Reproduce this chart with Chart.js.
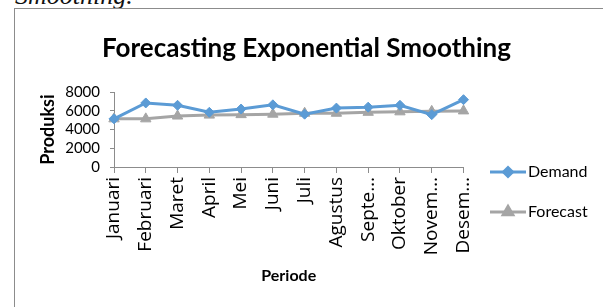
<!DOCTYPE html>
<html>
<head>
<meta charset="utf-8">
<script src="https://cdn.jsdelivr.net/npm/chart.js@4/dist/chart.umd.min.js"></script>
<style>
html,body{margin:0;padding:0;background:#fff;overflow:hidden;}
#wrap{position:absolute;left:0;top:0;width:603px;height:307px;}
#frame{position:absolute;left:14px;top:8px;width:620px;height:320px;border-left:1.5px solid #8c8c8c;border-top:1.5px solid #8c8c8c;}
#doc{position:absolute;left:15px;top:-18px;font-family:"Liberation Serif",serif;font-style:italic;font-size:26px;line-height:28px;color:#111;white-space:nowrap;}
canvas{position:absolute;left:0;top:0;}
</style>
</head>
<body>
<div id="wrap">
<div id="doc">Smoothing.</div>
<div id="frame"></div>
<canvas id="c" width="603" height="307"></canvas>
</div>
<script>
const categories = ["Januari","Februari","Maret","April","Mei","Juni","Juli","Agustus","September","Oktober","November","Desember"];
const xTickLabels = ["Januari","Februari","Maret","April","Mei","Juni","Juli","Agustus","Septe…","Oktober","Novem…","Desem…"];
const demand = [5150, 6850, 6600, 5850, 6200, 6650, 5650, 6300, 6400, 6600, 5600, 7200];
const forecast = [5150, 5150, 5450, 5550, 5600, 5650, 5750, 5750, 5850, 5900, 5950, 6000];
const yTickStep = 2000;
const yMax = 8000;

const BLUE = '#5B9BD5', GRAY = '#A5A5A5';

const legendPlugin = {
  id: 'customLegend',
  afterDraw(chart) {
    const ctx = chart.ctx;
    const items = [
      {label: 'Demand', color: BLUE, style: 'rectRot', r: 4.5, y: 172},
      {label: 'Forecast', color: GRAY, style: 'triangle', r: 5.5, y: 212}
    ];
    ctx.save();
    items.forEach(it => {
      ctx.strokeStyle = it.color; ctx.lineWidth = 3;
      ctx.beginPath(); ctx.moveTo(490, it.y); ctx.lineTo(526, it.y); ctx.stroke();
      ctx.fillStyle = it.color;
      Chart.helpers.drawPoint(ctx, {pointStyle: it.style, radius: it.r, borderWidth: 1}, 508, it.y);
      ctx.fill();
      ctx.fillStyle = '#000';
      ctx.font = '16px Lato';
      ctx.textBaseline = 'middle';
      ctx.textAlign = 'left';
      ctx.fillText(it.label, 528, it.y);
    });
    ctx.restore();
  }
};

new Chart(document.getElementById('c'), {
  type: 'line',
  data: {
    labels: categories,
    datasets: [
      {label: 'Demand', data: demand, borderColor: BLUE, backgroundColor: BLUE, borderWidth: 3,
       pointStyle: 'rectRot', pointRadius: 5, pointBorderWidth: 1, pointBackgroundColor: BLUE, pointBorderColor: BLUE, tension: 0},
      {label: 'Forecast', data: forecast, borderColor: GRAY, backgroundColor: GRAY, borderWidth: 3,
       pointStyle: 'triangle', pointRadius: 6, pointBorderWidth: 1, pointBackgroundColor: GRAY, pointBorderColor: GRAY, tension: 0}
    ]
  },
  options: {
    responsive: false,
    animation: false,
    layout: {padding: {left: 15, right: 5, top: 0, bottom: 15}},
    plugins: {
      legend: {display: false},
      tooltip: {enabled: false},
      title: {display: true, text: 'Forecasting Exponential Smoothing', color: '#000',
              font: {family: 'Lato', size: 26, weight: 'bold', lineHeight: 1.2},
              padding: {top: 33, bottom: 28}}
    },
    scales: {
      x: {
        offset: false,
        grid: {drawOnChartArea: false, drawTicks: true, tickLength: 6, color: '#8c8c8c'},
        border: {color: '#8c8c8c', width: 1},
        ticks: {callback: (v, i) => xTickLabels[i], autoSkip: false, maxRotation: 90, minRotation: 90,
                font: {family: 'Open Sans', size: 19}, color: '#000', padding: 4},
        title: {display: true, text: 'Periode', color: '#000', font: {family: 'Lato', size: 16, weight: 'bold', lineHeight: 1.2},
                padding: {top: 0, bottom: 7}},
        afterFit: s => { s.height = 125; }
      },
      y: {
        min: 0, max: yMax,
        grid: {drawOnChartArea: false, drawTicks: true, tickLength: 4, color: '#8c8c8c'},
        border: {color: '#8c8c8c', width: 1},
        ticks: {stepSize: yTickStep, autoSkip: false, callback: v => String(v),
                font: {family: 'Lato', size: 15}, color: '#000', padding: 10},
        title: {display: true, text: 'Produksi', color: '#000', font: {family: 'Lato', size: 18, weight: 'bold', lineHeight: 1.2},
                padding: {top: 22, bottom: 0}},
        afterFit: s => { s.width = 99; }
      },
      yR: {
        position: 'right', display: true,
        grid: {display: false}, border: {display: false}, ticks: {display: false},
        afterFit: s => { s.width = 134.5; }
      }
    }
  },
  plugins: [legendPlugin]
});
</script>
</body>
</html>
